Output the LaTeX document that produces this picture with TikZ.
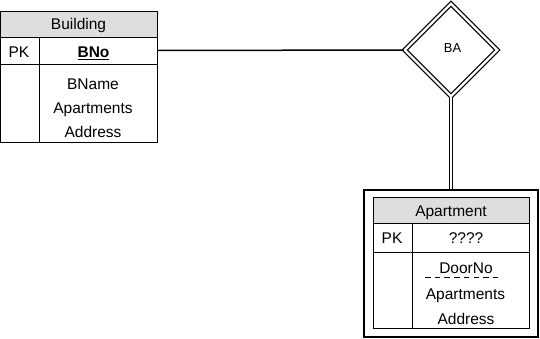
\documentclass[tikz,border=0pt]{standalone}
\usepackage{fontspec}
\setmainfont{Liberation Sans}
\usetikzlibrary{shapes.geometric}
\definecolor{hdr}{RGB}{222,222,222}
\begin{document}
\begin{tikzpicture}[x=1pt,y=-1pt,
  cell/.style={draw, line width=0.9pt, inner sep=0, outer sep=0},
  hcell/.style={cell, fill=hdr},
  txt/.style={anchor=base, inner sep=0, font=\fontsize{15.5}{18}\selectfont},
  rel/.style={draw, shape=diamond, double, double distance=2.4pt, line width=1.2pt, inner sep=0, minimum width=93pt, minimum height=93pt, font=\fontsize{13}{15}\selectfont},
  conn/.style={line width=1.5pt}
]
\useasboundingbox (0,0) rectangle (540,338);
% Building table
\node[hcell, minimum width=156.5pt, minimum height=26pt] (bhead) at (78.75,24) {};
\node[cell, minimum width=38.5pt, minimum height=27pt] (bpk) at (19.75,50.5) {};
\node[cell, minimum width=118pt, minimum height=27pt] (bno) at (98,50.5) {};
\node[cell, minimum width=38.5pt, minimum height=78pt] (bblank) at (19.75,103) {};
\node[cell, minimum width=118pt, minimum height=78pt] (bbody) at (98,103) {};
\node[txt] (tbuilding) at (78.5,29) {Building};
\node[txt] (tbpk) at (19,57.5) {PK};
\node[txt] (tbno) at (93.5,57.5) {\textbf{\underline{BNo}}};
\node[txt] (tbname) at (93,89.3) {BName};
\node[txt] (tbapts) at (93,113.3) {Apartments};
\node[txt] (tbaddr) at (93,137.3) {Address};
% Relationship
\node[rel] (ba) at (451,50) {};
\node[inner sep=0, font=\fontsize{13}{15}\selectfont, anchor=base] (tba) at (452.5,52.5) {BA};
% Apartment weak entity
\node[draw, line width=1.1pt, minimum width=174pt, minimum height=147pt, inner sep=0] (apt) at (451,263.5) {};
\node[hcell, minimum width=156pt, minimum height=26pt] (ahead) at (451,210) {};
\node[cell, minimum width=39pt, minimum height=29pt] (apk) at (392.5,237.5) {};
\node[cell, minimum width=117pt, minimum height=29pt] (akey) at (470.5,237.5) {};
\node[cell, minimum width=39pt, minimum height=76pt] (ablank) at (392.5,290) {};
\node[cell, minimum width=117pt, minimum height=76pt] (abody) at (470.5,290) {};
\node[txt] (tapt) at (451,216) {Apartment};
\node[txt] (tapk) at (392,243.3) {PK};
\node[txt] (taq) at (466,243.3) {????};
\node[txt] (tdoor) at (466,273.3) {DoorNo};
\node[txt] (taapts) at (465.5,299.3) {Apartments};
\node[txt] (taaddr) at (466,324) {Address};
\coordinate (dl) at (425,277.5);
\coordinate (dr) at (501,277.5);
\draw[line width=1.1pt, dash pattern=on 5.5pt off 4.2pt] (dl) -- (dr);
% Connectors
\draw[conn] (bno.east) -- (ba.west);
\draw[line width=1.1pt, double, double distance=2.4pt] (ba.south) -- (apt.north);
\end{tikzpicture}
\end{document}
